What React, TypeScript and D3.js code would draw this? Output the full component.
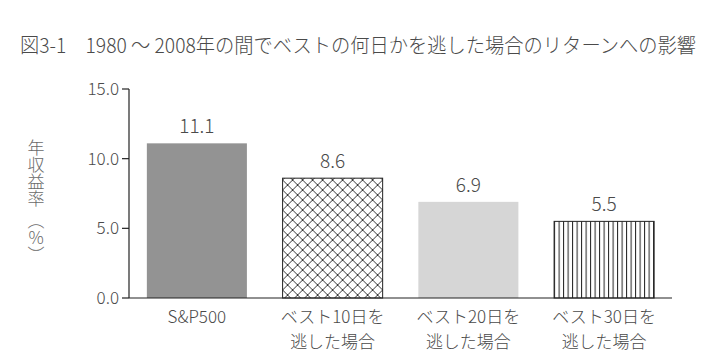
import React from "react";
import * as d3 from "d3";

const title = "図3-1　1980 ～ 2008年の間でベストの何日かを逃した場合のリターンへの影響";
const categoriesLine1 = ["S&P500", "ベスト10日を", "ベスト20日を", "ベスト30日を"];
const categoriesLine2 = ["", "逃した場合", "逃した場合", "逃した場合"];
const values = [11.1, 8.6, 6.9, 5.5];
const valueLabels = ["11.1", "8.6", "6.9", "5.5"];
const yTicks = [0, 5, 10, 15];
const yLabelMain = "年収益率";
const yLabelUnit = ["（", "%", "）"];

const FONT = "'Noto Sans CJK JP', 'Noto Sans', sans-serif";
const TEXT = "#4a4a4a";

export default function App() {
  const x = d3
    .scaleBand<number>()
    .domain(values.map((_, i) => i))
    .range([129, 672])
    .paddingInner(0.263)
    .paddingOuter(0.1315);
  const y = d3.scaleLinear().domain([0, 15]).range([298, 89]);
  const fills = ["#939393", "url(#cross)", "#d6d6d6", "url(#vlines)"];
  const strokes = ["none", "#222", "none", "#222"];

  return (
    <svg
      width={724}
      height={359}
      style={{ position: "absolute", left: 0, top: 0, background: "#fff" }}
      fontFamily={FONT}
    >
      <defs>
        <pattern id="cross" patternUnits="userSpaceOnUse" width={10} height={10} x={x(1)} y={0}>
          <rect width={10} height={10} fill="#fff" />
          <path d="M0,0L10,10M10,0L0,10" stroke="#222" strokeWidth={0.9} />
        </pattern>
        <pattern id="vlines" patternUnits="userSpaceOnUse" width={4.5} height={10} x={x(3)} y={0}>
          <rect width={4.5} height={10} fill="#fff" />
          <line x1={0.5} x2={0.5} y1={0} y2={10} stroke="#222" strokeWidth={1} />
        </pattern>
      </defs>

      <text x={20} y={53} fontSize={20} fill={TEXT} fontWeight={300} textLength={676} lengthAdjust="spacingAndGlyphs">
        {title}
      </text>

      {/* y label, vertical */}
      <text
        x={36}
        y={139}
        fontSize={17}
        fill="#6a6a6a"
        fontWeight={300}
        style={{ writingMode: "vertical-rl", textOrientation: "mixed" } as any}
      >
        {yLabelMain}
      </text>
      <text
        x={36}
        y={212}
        fontSize={17}
        fill="#6a6a6a"
        fontWeight={300}
        style={{ writingMode: "vertical-rl", textOrientation: "mixed" } as any}
      >
        {yLabelUnit[0]}
        <tspan style={{ textOrientation: "upright" } as any}>{yLabelUnit[1]}</tspan>
        {yLabelUnit[2]}
      </text>

      {/* bars */}
      {values.map((v, i) => (
        <rect
          key={i}
          x={x(i)}
          y={y(v)}
          width={x.bandwidth()}
          height={y(0) - y(v)}
          fill={fills[i]}
          stroke={strokes[i]}
          strokeWidth={1}
        />
      ))}

      {/* value labels */}
      {values.map((v, i) => (
        <text
          key={i}
          x={(x(i) as number) + x.bandwidth() / 2}
          y={y(v) - 10}
          fontSize={19}
          fill={TEXT}
          fontWeight={300}
          textAnchor="middle"
        >
          {valueLabels[i]}
        </text>
      ))}

      {/* axes */}
      <line x1={129} x2={129} y1={y(15)} y2={y(0)} stroke="#222" strokeWidth={1.2} />
      <line x1={129} x2={672} y1={y(0)} y2={y(0)} stroke="#222" strokeWidth={1.2} />
      {yTicks.map((t) => (
        <g key={t}>
          <line x1={122} x2={129} y1={y(t)} y2={y(t)} stroke="#222" strokeWidth={1.2} />
          <text x={119} y={y(t) + 6} fontSize={17} fill={TEXT} fontWeight={300} textAnchor="end">
            {d3.format(".1f")(t)}
          </text>
        </g>
      ))}

      {/* category labels */}
      {categoriesLine1.map((c, i) => {
        const cx = (x(i) as number) + x.bandwidth() / 2;
        return (
          <text key={i} x={cx} y={323} fontSize={17} fill={TEXT} fontWeight={300} textAnchor="middle">
            <tspan x={cx} y={323}>{c}</tspan>
            {categoriesLine2[i] ? (
              <tspan x={cx} y={348}>{categoriesLine2[i]}</tspan>
            ) : null}
          </text>
        );
      })}
    </svg>
  );
}
